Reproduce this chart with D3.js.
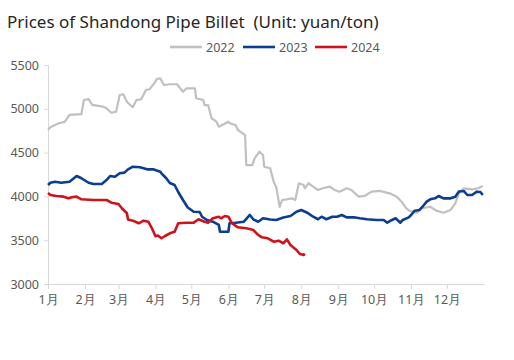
<!DOCTYPE html>
<html><head><meta charset="utf-8">
<script src="https://cdn.jsdelivr.net/npm/d3@7"></script>
<style>body{margin:0;background:#fff}svg{display:block}</style>
</head><body>
<svg id="c" width="514" height="360"></svg>
<script>
const monthLabels = ["1月","2月","3月","4月","5月","6月","7月","8月","9月","10月","11月","12月"];
const monthStartDays = [0,31,59,90,120,151,181,212,243,273,304,334];
const yTicks = [3000,3500,4000,4500,5000,5500];
const seriesNames = ["2022","2023","2024"];

const days2022 = [0,2,9,14,18,28,30,34,37,46,49,53,57,60,63,66,71,74,78,82,85,90,91,94,97,102,108,113,116,123,124,130,131,134,137,141,143,151,152,157,159,163,165,166,171,173,177,180,181,186,189,191,194,196,200,204,207,210,214,215,218,222,226,230,236,240,244,250,254,260,265,271,278,286,292,296,300,303,309,313,320,325,331,337,341,344,348,355,360,364];
const vals2022 = [4760,4790,4835,4850,4930,4940,5100,5110,5045,5025,5005,4955,4967,5158,5166,5081,5017,5100,5109,5215,5223,5310,5340,5348,5272,5280,5280,5195,5234,5234,5120,5100,5043,5043,4892,4853,4796,4853,4835,4815,4758,4720,4700,4358,4358,4435,4510,4473,4339,4321,4164,4111,3879,3959,3967,3978,3959,4150,4130,4092,4150,4111,4073,4093,4111,4073,4054,4093,4073,3997,4005,4054,4062,4035,3997,3940,3864,3833,3814,3864,3882,3837,3814,3845,3921,4035,4092,4081,4093,4119];

const days2023 = [0,2,6,11,18,24,28,34,38,45,49,52,56,60,64,67,71,77,83,88,94,95,99,102,106,109,113,117,122,127,129,133,138,143,144,151,152,157,164,169,172,176,180,186,191,197,203,208,212,217,222,226,229,233,238,242,246,250,256,261,267,275,281,284,288,291,295,297,302,304,307,311,314,317,320,324,327,331,337,341,344,348,351,355,359,362,364];
const vals2023 = [4130,4156,4168,4156,4168,4233,4207,4156,4142,4142,4187,4233,4225,4264,4271,4309,4339,4332,4309,4309,4282,4264,4207,4153,4130,4050,3959,3873,3825,3822,3768,3731,3711,3674,3597,3597,3696,3700,3711,3788,3736,3711,3750,3736,3731,3759,3776,3825,3845,3814,3768,3739,3768,3739,3768,3768,3788,3761,3761,3750,3739,3731,3731,3700,3731,3750,3700,3731,3761,3788,3837,3845,3890,3940,3967,3978,4005,3978,3978,3997,4056,4062,4016,4016,4054,4050,4016];

const days2024 = [0,2,7,13,17,20,24,28,38,49,53,59,62,66,67,71,76,80,84,87,90,92,95,98,102,106,109,116,122,126,131,134,138,143,145,148,151,154,159,166,172,175,179,184,189,193,197,200,203,208,211,214,215];
const vals2024 = [4039,4016,4005,3997,3978,3990,3997,3967,3959,3959,3928,3913,3862,3810,3736,3723,3693,3723,3711,3636,3545,3554,3522,3548,3579,3597,3693,3700,3700,3739,3711,3700,3750,3768,3750,3776,3768,3693,3647,3636,3616,3571,3533,3522,3483,3494,3465,3510,3445,3388,3342,3331,3345];

const colors = ["#c0c0c0","#0b3d91","#d0121b"];
const widths = [2.2,2.6,2.6];
const seriesDays = [days2022,days2023,days2024];
const seriesVals = [vals2022,vals2023,vals2024];

const svg = d3.select("#c");
const x = d3.scaleLinear().domain([0,365]).range([48,484]);
const y = d3.scaleLinear().domain([3000,5500]).range([284,65]);
const font = "'Noto Sans', 'Open Sans', sans-serif";

svg.append("text").attr("x",7).attr("y",28).attr("fill","#262626")
  .attr("font-family",font).attr("font-size",17).style("white-space","pre")
  .text("Prices of Shandong Pipe Billet  (Unit: yuan/ton)");

// y axis
const ya = svg.append("g").attr("transform","translate(48,0)")
  .call(d3.axisLeft(y).tickValues(yTicks).tickSize(4).tickPadding(5).tickFormat(d3.format("d")));
ya.select(".domain").attr("stroke","#d9d9d9");
ya.selectAll(".tick line").attr("stroke","#d9d9d9");
ya.selectAll("text").attr("fill","#595959").attr("font-family",font).attr("font-size",12.5);

// x axis
const xa = svg.append("g").attr("transform","translate(0,284)")
  .call(d3.axisBottom(x).tickValues(monthStartDays).tickSize(5).tickPadding(6).tickSizeOuter(0)
  .tickFormat((d,i)=>monthLabels[i]));
xa.select(".domain").attr("stroke","#d9d9d9");
xa.selectAll(".tick line").attr("stroke","#d9d9d9");
xa.selectAll("text").attr("fill","#595959").attr("font-family",font).attr("font-size",12.5);

const line = d3.line().x(d=>x(d[0])).y(d=>y(d[1])).curve(d3.curveLinear);
seriesNames.forEach((n,i)=>{
  const data = seriesDays[i].map((d,j)=>[d,seriesVals[i][j]]);
  svg.append("path").datum(data).attr("d",line).attr("fill","none")
    .attr("stroke",colors[i]).attr("stroke-width",widths[i]).attr("stroke-linejoin","round");
});

// legend
const legX = [170,243,315];
seriesNames.forEach((n,i)=>{
  svg.append("line").attr("x1",legX[i]).attr("x2",legX[i]+32).attr("y1",47).attr("y2",47)
    .attr("stroke",colors[i]).attr("stroke-width",2.6);
  svg.append("text").attr("x",legX[i]+36).attr("y",52).attr("fill","#595959")
    .attr("font-family",font).attr("font-size",12.5).text(n);
});
</script>
</body></html>
